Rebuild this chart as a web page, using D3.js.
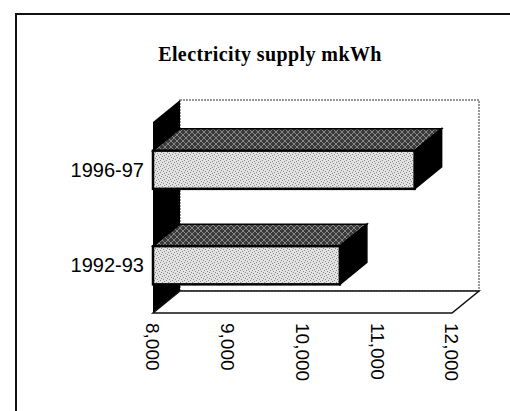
<!DOCTYPE html>
<html>
<head>
<meta charset="utf-8">
<script src="https://cdn.jsdelivr.net/npm/d3@7"></script>
<style>
  body { margin: 0; background: #fff; }
</style>
</head>
<body>
<div id="chart"></div>
<script>
// data
var years = ["1996-97", "1992-93"];
var supply = [11500, 10500];
var tickValues = [8000, 9000, 10000, 11000, 12000];

var width = 510, height = 411;
var depth = {x: 27, y: -22};   // 3d offset of the back plane

var svg = d3.select("#chart").append("svg")
    .attr("width", width)
    .attr("height", height);

var defs = svg.append("defs");

// stippled light fill for bar fronts
var frontPat = defs.append("pattern")
    .attr("id", "frontPat").attr("patternUnits", "userSpaceOnUse")
    .attr("width", 6).attr("height", 6);
frontPat.append("rect").attr("width", 6).attr("height", 6).attr("fill", "#e2e2e2");
[[0,0],[3,1],[1,3],[4,4],[2,5],[5,2]].forEach(function(p) {
  frontPat.append("rect").attr("x", p[0]).attr("y", p[1])
    .attr("width", 1).attr("height", 1).attr("fill", "#8a8a8a");
});

// dark crosshatch for bar tops
var topPat = defs.append("pattern")
    .attr("id", "topPat").attr("patternUnits", "userSpaceOnUse")
    .attr("width", 6).attr("height", 6);
topPat.append("rect").attr("width", 6).attr("height", 6).attr("fill", "#3a3a3a");
topPat.append("path").attr("d", "M0,0L6,6M6,0L0,6")
    .attr("stroke", "#9a9a9a").attr("stroke-width", 0.8);

// outer frame
svg.append("path")
    .attr("d", "M16," + height + "V14H" + width)
    .attr("fill", "none").attr("stroke", "#111").attr("stroke-width", 2);

// title
svg.append("text")
    .attr("x", 270).attr("y", 61)
    .attr("text-anchor", "middle")
    .style("font-family", "'Liberation Serif', 'Times New Roman', serif")
    .style("font-weight", "bold")
    .style("font-size", "20px")
    .style("letter-spacing", "0.4px")
    .text("Electricity supply mkWh");

// scales
var x = d3.scaleLinear().domain([8000, 12000]).range([153, 452]);
var y = d3.scaleBand().domain(years).range([122, 313])
    .paddingInner(0.6).paddingOuter(0.3);

var x0 = x.range()[0], x1 = x.range()[1];
var y0 = y.range()[0], y1 = y.range()[1];

function pts(a) { return a.map(function(p) { return p.join(","); }).join(" "); }

// back wall
svg.append("rect")
    .attr("x", x0 + depth.x).attr("y", y0 + depth.y)
    .attr("width", x1 - x0).attr("height", y1 - y0)
    .attr("fill", "#fff").attr("stroke", "#777").attr("stroke-width", 1.5)
    .attr("stroke-dasharray", "2,1");

// left wall
svg.append("polygon")
    .attr("points", pts([[x0, y0], [x0 + depth.x, y0 + depth.y],
                         [x0 + depth.x, y1 + depth.y], [x0, y1]]))
    .attr("fill", "#000");

// floor
svg.append("polygon")
    .attr("points", pts([[x0, y1], [x1, y1], [x1 + depth.x, y1 + depth.y],
                         [x0 + depth.x, y1 + depth.y]]))
    .attr("fill", "#fff").attr("stroke", "#111").attr("stroke-width", 1.5);

// bars
var bars = svg.selectAll(".bar")
    .data(years.map(function(d, i) { return {year: d, value: supply[i]}; }))
    .enter().append("g").attr("class", "bar");

bars.append("polygon")
    .attr("points", function(d) {
      var t = y(d.year), r = x(d.value);
      return pts([[x0, t], [r, t], [r + depth.x, t + depth.y], [x0 + depth.x, t + depth.y]]);
    })
    .attr("fill", "url(#topPat)").attr("stroke", "#000").attr("stroke-width", 1.5);

bars.append("polygon")
    .attr("points", function(d) {
      var t = y(d.year), b = t + y.bandwidth(), r = x(d.value);
      return pts([[r, t], [r + depth.x, t + depth.y], [r + depth.x, b + depth.y], [r, b]]);
    })
    .attr("fill", "#000").attr("stroke", "#000").attr("stroke-width", 1.5);

bars.append("rect")
    .attr("x", x0)
    .attr("y", function(d) { return y(d.year); })
    .attr("width", function(d) { return x(d.value) - x0; })
    .attr("height", y.bandwidth())
    .attr("fill", "url(#frontPat)").attr("stroke", "#000").attr("stroke-width", 2.5);

// category labels
svg.append("g").selectAll("text")
    .data(years).enter().append("text")
    .attr("x", 144)
    .attr("y", function(d) { return y(d) + y.bandwidth() / 2; })
    .attr("dy", "0.35em")
    .attr("text-anchor", "end")
    .style("font-family", "'Liberation Sans', Arial, sans-serif")
    .style("font-size", "20px")
    .text(function(d) { return d; });

// value axis, labels rotated
svg.append("g").selectAll("text")
    .data(tickValues).enter().append("text")
    .attr("transform", function(d) { return "translate(" + x(d) + ",323)rotate(90)"; })
    .attr("dy", "0.35em")
    .attr("text-anchor", "start")
    .style("font-family", "'Liberation Sans', Arial, sans-serif")
    .style("font-size", "19px")
    .text(function(d) { return d3.format(",")(d); });
</script>
</body>
</html>
